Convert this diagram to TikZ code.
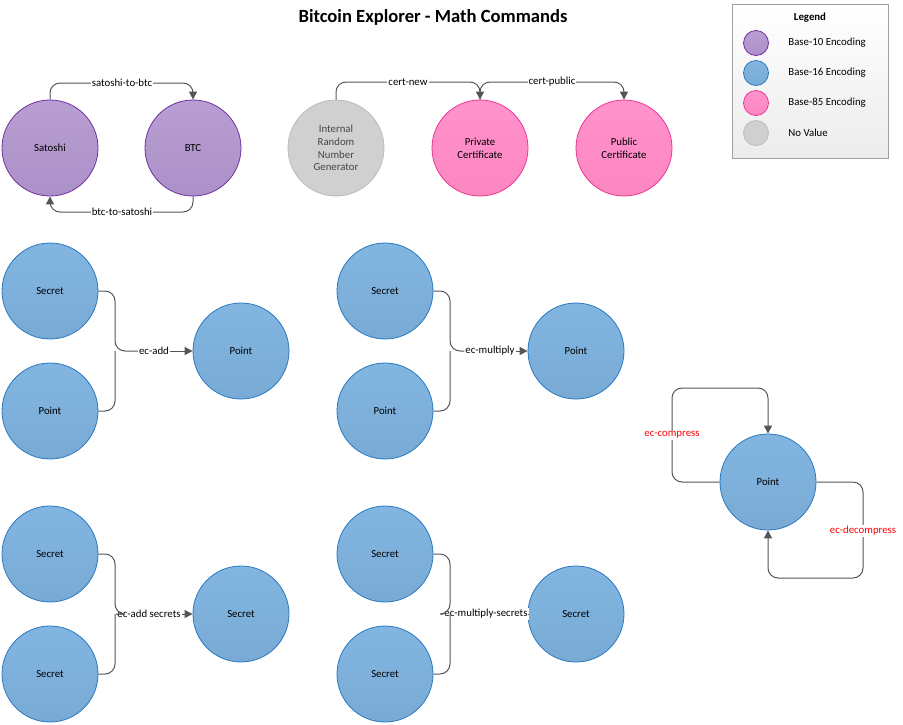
\documentclass[tikz,border=0pt]{standalone}
\usepackage{fontspec}
\setmainfont{Carlito}
\usetikzlibrary{arrows.meta,positioning}

\definecolor{purpT}{RGB}{184,158,210}
\definecolor{purpB}{RGB}{172,144,200}
\definecolor{purpD}{RGB}{112,48,160}
\definecolor{blueT}{RGB}{130,182,224}
\definecolor{blueB}{RGB}{120,170,212}
\definecolor{blueD}{RGB}{40,120,196}
\definecolor{pinkT}{RGB}{255,146,204}
\definecolor{pinkB}{RGB}{252,134,192}
\definecolor{pinkD}{RGB}{240,52,150}
\definecolor{grayF}{RGB}{208,208,208}
\definecolor{grayD}{RGB}{188,188,188}
\definecolor{grayT}{RGB}{70,70,70}
\definecolor{lineC}{RGB}{85,85,85}
\definecolor{boxD}{RGB}{160,160,160}
\definecolor{boxB}{RGB}{236,236,236}

\begin{document}
\begin{tikzpicture}[x=1pt,y=-1pt,
    every node/.style={font=\fontsize{10.8}{12.7}\selectfont},
    val/.style={circle, minimum size=96pt, inner sep=0pt, align=center, line width=0.8pt},
    base10/.style={val, draw=purpD, top color=purpT, bottom color=purpB},
    base16/.style={val, draw=blueD, top color=blueT, bottom color=blueB},
    base85/.style={val, draw=pinkD, top color=pinkT, bottom color=pinkB},
    noval/.style={val, draw=grayD, fill=grayF, text=grayT},
    conn/.style={draw=lineC, line width=1pt, rounded corners=10pt},
    arr/.style={conn, -{Triangle[length=8pt,width=8pt]}},
    lbl/.style={fill=white, inner sep=1pt},
    cmd/.style={lbl, text=red}]
    \useasboundingbox (0,0) rectangle (903,724);

    % title
    \node[font=\fontsize{18.6}{22}\selectfont\bfseries] (title) at (433,17) {Bitcoin Explorer - Math Commands};

    % legend
    \node[draw=boxD, top color=white, bottom color=boxB, minimum width=156pt, minimum height=154pt, inner sep=0pt] (legend) at (810,81) {};
    \node[font=\fontsize{10.8}{12.7}\selectfont\bfseries] (legtitle) at (810,18) {Legend};
    \node[base10, minimum size=25pt] (l1) at (756,43) {};
    \node[base16, minimum size=25pt] (l2) at (756,73) {};
    \node[base85, minimum size=25pt] (l3) at (756,103) {};
    \node[noval, minimum size=25pt] (l4) at (756,133) {};
    \node[right=16pt of l1] (lt1) {Base-10 Encoding};
    \node[right=16pt of l2] (lt2) {Base-16 Encoding};
    \node[right=16pt of l3] (lt3) {Base-85 Encoding};
    \node[right=16pt of l4] (lt4) {No Value};

    % units
    \node[base10] (sat) at (50,148) {Satoshi};
    \node[base10] (btc) at (193,148) {BTC};
    \coordinate (ta) at (122,83);
    \coordinate (tb) at (122,212);
    \draw[arr] (sat.north) |- (ta) -| (btc.north);
    \draw[arr] (btc.south) |- (tb) -| (sat.south);
    \node[lbl] (s2b) at (ta) {satoshi-to-btc};
    \node[lbl] (b2s) at (tb) {btc-to-satoshi};

    % certificates
    \node[noval] (rng) at (336,148) {Internal\\Random\\Number\\Generator};
    \node[base85] (priv) at (480,148) {Private\\Certificate};
    \node[base85] (pub) at (624,148) {Public\\Certificate};
    \coordinate (tc) at (408,82);
    \coordinate (td) at (552,82);
    \draw[arr] (rng.north) |- (tc) -| (priv.north);
    \draw[arr] (priv.north) |- (td) -| (pub.north);
    \node[lbl] (cnew) at (tc) {cert-new};
    \node[lbl] (cpub) at (td) {cert-public};

    % ec-add
    \node[base16] (as) at (50,291) {Secret};
    \node[base16] (ap) at (50,411) {Point};
    \node[base16] (ao) at (241,351) {Point};
    \coordinate (ja) at (115,351);
    \node[lbl] (add) at (154,351) {ec-add};
    \draw[conn] (as.east) -| (ja) -- (add);
    \draw[conn] (ap.east) -| (ja);
    \draw[arr] (add) -- (ao);

    % ec-multiply
    \node[base16] (ms) at (385,291) {Secret};
    \node[base16] (mp) at (385,411) {Point};
    \node[base16] (mo) at (576,351) {Point};
    \coordinate (jm) at (450,351);
    \node[lbl] (mul) at (490,351) {ec-multiply};
    \draw[conn] (ms.east) -| (jm) -- (mul);
    \draw[conn] (mp.east) -| (jm);
    \draw[arr] (mul) -- (mo);

    % ec-add-secrets
    \node[base16] (bs1) at (50,554) {Secret};
    \node[base16] (bs2) at (50,674) {Secret};
    \node[base16] (bo) at (241,614) {Secret};
    \coordinate (jb) at (115,614);
    \node[lbl] (adds) at (149,614) {ec-add secrets};
    \draw[conn] (bs1.east) -| (jb) -- (adds);
    \draw[conn] (bs2.east) -| (jb);
    \draw[arr] (adds) -- (bo);

    % ec-multiply-secrets
    \node[base16] (ns1) at (385,554) {Secret};
    \node[base16] (ns2) at (385,674) {Secret};
    \node[base16] (no) at (576,614) {Secret};
    \coordinate (jn) at (450,614);
    \node[lbl] (muls) at (486,614) {ec-multiply-secrets};
    \draw[conn] (ns1.east) -| (jn) -- (muls);
    \draw[conn] (ns2.east) -| (jn);
    \draw[conn] (muls) -- (no);

    % compression
    \node[base16] (pt) at (768,482) {Point};
    \coordinate (cl) at (672,388);
    \coordinate (cr) at (863,578);
    \draw[arr] (pt.west) -| (cl) -| (pt.north);
    \draw[arr] (pt.east) -| (cr) -| (pt.south);
    \node[cmd] (comp) at (672,435) {ec-compress};
    \node[cmd] (decomp) at (863,531) {ec-decompress};
\end{tikzpicture}
\end{document}
